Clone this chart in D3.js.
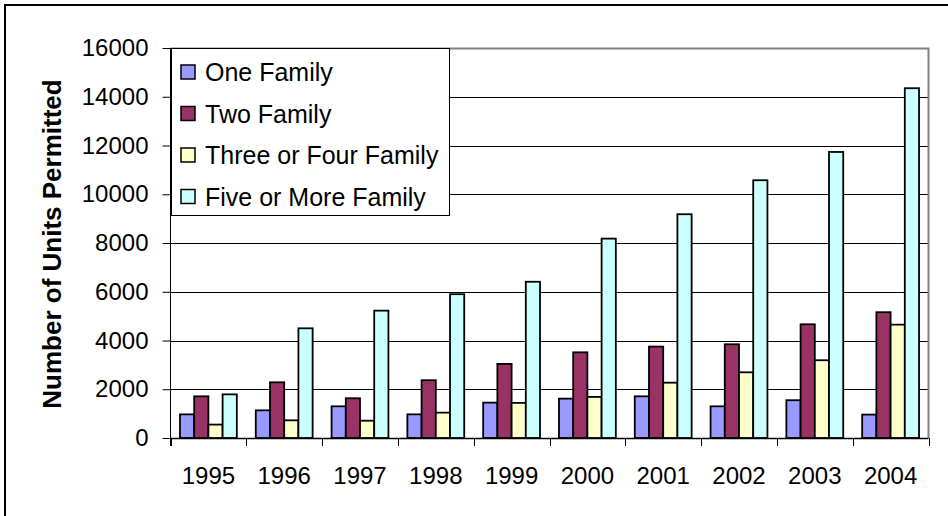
<!DOCTYPE html>
<html>
<head>
<meta charset="utf-8">
<script src="https://cdn.jsdelivr.net/npm/d3@7"></script>
<style>
  html, body { margin: 0; padding: 0; background: #fff; }
  svg { display: block; font-family: Arial, "Liberation Sans", sans-serif; }
</style>
</head>
<body>
<svg id="chart" width="948" height="516"></svg>
<script>
// Building permits by structure type, 1995-2004
const years = ["1995", "1996", "1997", "1998", "1999", "2000", "2001", "2002", "2003", "2004"];
const seriesNames = ["One Family", "Two Family", "Three or Four Family", "Five or More Family"];
const oneFamily   = [970, 1135, 1300, 970, 1450, 1615, 1710, 1300, 1550, 960];
const twoFamily   = [1710, 2285, 1630, 2370, 3040, 3515, 3750, 3845, 4665, 5160];
const threeFour   = [550, 725, 710, 1040, 1440, 1685, 2270, 2695, 3190, 4650];
const fiveOrMore  = [1790, 4500, 5225, 5900, 6410, 8180, 9180, 10575, 11735, 14350];
const seriesColors = ["#9999FF", "#993366", "#FFFFCC", "#CCFFFF"];
const yTicks = [0, 2000, 4000, 6000, 8000, 10000, 12000, 14000, 16000];

const seriesValues = [oneFamily, twoFamily, threeFour, fiveOrMore];
const rows = years.map((yr, i) => ({ year: yr, values: seriesValues.map(s => s[i]) }));

const svg = d3.select("#chart");
const plot = { left: 170.5, right: 928.5, top: 48, bottom: 438 };

// Outer chart frame (left and top edges show inside the page)
svg.append("rect")
  .attr("x", 5).attr("y", 5).attr("width", 1200).attr("height", 1200)
  .attr("fill", "none").attr("stroke", "#000").attr("stroke-width", 2);

const x0 = d3.scaleBand().domain(years).range([plot.left, plot.right])
  .paddingInner(0.25).paddingOuter(0.125);
const x1 = d3.scaleBand().domain(d3.range(seriesNames.length)).range([0, x0.bandwidth()]);
const y = d3.scaleLinear().domain([0, 16000]).range([plot.bottom, plot.top]);

// Horizontal gridlines
svg.append("g").selectAll("line")
  .data(yTicks.filter(t => t > 0 && t < 16000))
  .join("line")
  .attr("x1", plot.left).attr("x2", plot.right)
  .attr("y1", d => Math.round(y(d)) + 0.5).attr("y2", d => Math.round(y(d)) + 0.5)
  .attr("stroke", "#000").attr("stroke-width", 1);

// Plot area border (top and right)
svg.append("path")
  .attr("d", `M${plot.left},${y(16000) + 0.5}H${plot.right}V${plot.bottom}`)
  .attr("fill", "none").attr("stroke", "#808080").attr("stroke-width", 2);

// Bars
svg.append("g").selectAll("g")
  .data(rows)
  .join("g")
  .attr("transform", d => `translate(${x0(d.year)},0)`)
  .selectAll("rect")
  .data(d => d.values.map((v, k) => ({ k, v })))
  .join("rect")
  .attr("x", d => x1(d.k))
  .attr("y", d => y(d.v))
  .attr("width", x1.bandwidth())
  .attr("height", d => y(0) - y(d.v))
  .attr("fill", d => seriesColors[d.k])
  .attr("stroke", "#000").attr("stroke-width", 1.8);

// Y axis
const yAxis = d3.axisLeft(y).tickValues(yTicks).tickSize(8).tickPadding(14).tickFormat(d3.format("d"));
const gy = svg.append("g").attr("transform", `translate(${plot.left},0)`).call(yAxis);
gy.select(".domain").attr("d", `M0,${y(16000)}V${plot.bottom + 8}`).attr("stroke", "#000");
gy.selectAll(".tick line").attr("stroke", "#000");
gy.selectAll(".tick text").attr("font-size", 24).attr("fill", "#000")
  .attr("font-family", "Arial, 'Liberation Sans', sans-serif");

// X axis: tick marks at category boundaries
const boundaries = years.map(yr => x0(yr) - x0.step() * x0.paddingOuter()).concat([plot.right]);
svg.append("line")
  .attr("x1", plot.left).attr("x2", plot.right)
  .attr("y1", plot.bottom + 0.5).attr("y2", plot.bottom + 0.5)
  .attr("stroke", "#000").attr("stroke-width", 1.5);
svg.append("g").selectAll("line")
  .data(boundaries)
  .join("line")
  .attr("x1", d => Math.round(d) + 0.5).attr("x2", d => Math.round(d) + 0.5)
  .attr("y1", plot.bottom).attr("y2", plot.bottom + 8)
  .attr("stroke", "#000");
svg.append("g").selectAll("text")
  .data(years)
  .join("text")
  .attr("x", d => x0(d) + x0.bandwidth() / 2)
  .attr("y", 484)
  .attr("text-anchor", "middle")
  .attr("font-size", 24)
  .text(d => d);

// Y axis title
svg.append("text")
  .attr("transform", `translate(61,244) rotate(-90)`)
  .attr("text-anchor", "middle")
  .attr("font-size", 26)
  .attr("font-weight", "bold")
  .text("Number of Units Permitted");

// Legend
const legend = svg.append("g").attr("transform", "translate(171,48)");
legend.append("rect")
  .attr("x", 0.5).attr("y", 0.5).attr("width", 278).attr("height", 167)
  .attr("fill", "#fff").attr("stroke", "#000").attr("stroke-width", 1);
const items = legend.selectAll("g.item")
  .data(seriesNames)
  .join("g")
  .attr("class", "item")
  .attr("transform", (d, i) => `translate(0,${24 + i * 41.5})`);
items.append("rect")
  .attr("x", 10).attr("y", -7).attr("width", 14).attr("height", 14)
  .attr("fill", (d, i) => seriesColors[i])
  .attr("stroke", "#000").attr("stroke-width", 1.5);
items.append("text")
  .attr("x", 34).attr("y", 9)
  .attr("font-size", 25)
  .text(d => d);
</script>
</body>
</html>
